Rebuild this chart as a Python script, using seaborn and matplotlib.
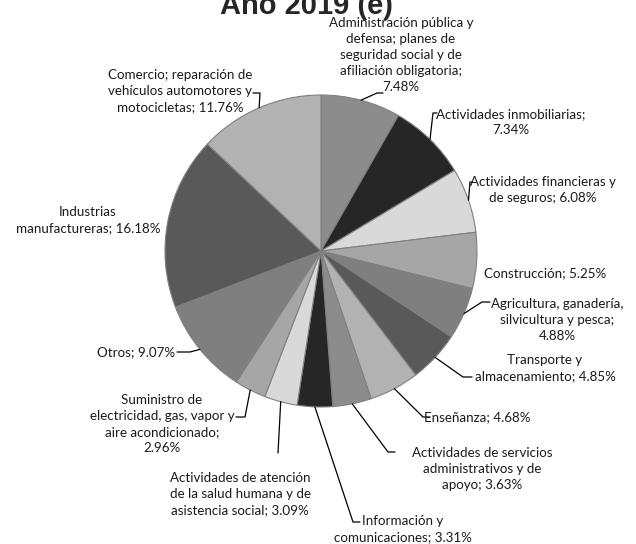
import numpy as np
import seaborn as sns
import matplotlib.pyplot as plt

sns.set_style('white')

# sectors, clockwise from 12 o'clock
sectores = ['Administración pública y defensa; planes de seguridad social y de afiliación obligatoria',
            'Actividades inmobiliarias',
            'Actividades financieras y de seguros',
            'Construcción',
            'Agricultura, ganadería, silvicultura y pesca',
            'Transporte y almacenamiento',
            'Enseñanza',
            'Actividades de servicios administrativos y de apoyo',
            'Información y comunicaciones',
            'Actividades de atención de la salud humana y de asistencia social',
            'Suministro de electricidad, gas, vapor y aire acondicionado',
            'Otros',
            'Industrias manufactureras',
            'Comercio; reparación de vehículos automotores y motocicletas']
porcentaje = [7.48, 7.34, 6.08, 5.25, 4.88, 4.85, 4.68, 3.63, 3.31, 3.09, 2.96, 9.07, 16.18, 11.76]

# label text as wrapped in the chart (value is appended)
etiquetas = ['Administración pública y\ndefensa; planes de\nseguridad social y de\nafiliación obligatoria;\n',
             'Actividades inmobiliarias;\n',
             'Actividades financieras y\nde seguros; ',
             'Construcción; ',
             'Agricultura, ganadería,\nsilvicultura y pesca;\n',
             'Transporte y\nalmacenamiento; ',
             'Enseñanza; ',
             'Actividades de servicios\nadministrativos y de\napoyo; ',
             'Información y\ncomunicaciones; ',
             'Actividades de atención\nde la salud humana y de\nasistencia social; ',
             'Suministro de\nelectricidad, gas, vapor y\naire acondicionado;\n',
             'Otros; ',
             'Industrias\nmanufactureras; ',
             'Comercio; reparación de\nvehículos automotores y\nmotocicletas; ']

colores = ['#8c8c8c', '#262626', '#d9d9d9', '#a6a6a6', '#7f7f7f', '#595959', '#b2b2b2',
           '#8c8c8c', '#262626', '#d9d9d9', '#a6a6a6', '#7f7f7f', '#595959', '#b2b2b2']

# layout in pixels: label centre and leader-line bend points
CX, CY, R = 321, 251, 156
pos_px = [(401, 55), (511, 122), (543, 190), (545, 273), (557, 320), (545, 368),
          (477, 417), (482, 469), (403, 529), (240, 494), (162, 424), (136, 352),
          (88, 220), (180, 91)]
guias_px = [[(377, 93), (383, 93)], [(433, 113), (437, 113)], [(470, 182), (472, 182)], None,
            [(482, 302), (490, 302)], [(463, 377), (472, 377)], [(423, 417), (430, 417)],
            [(388, 452), (395, 452)], [(353, 522), (360, 522)], [(278, 453)],
            [(245, 417), (236, 417)], [(190, 352), (177, 352)], None, [(260, 93), (253, 93)]]


def px2d(p):
    return ((p[0] - CX) / R, (CY - p[1]) / R)


fig = plt.figure(figsize=(6.36, 5.44), dpi=100)
ax = fig.add_axes([0, 0, 1, 1])
wedges, _ = ax.pie(porcentaje, colors=colores, startangle=90, counterclock=False,
                   radius=1, wedgeprops={'edgecolor': '#808080', 'linewidth': 0.8})
ax.set_xlim(-CX / R, (636 - CX) / R)
ax.set_ylim(-(544 - CY) / R, CY / R)
ax.set_aspect('equal')
ax.axis('off')

for w, lab, val, p, g in zip(wedges, etiquetas, porcentaje, pos_px, guias_px):
    x, y = px2d(p)
    ax.text(x, y, lab + '{:.2f}%'.format(val), ha='center', va='center', multialignment='center',
            fontsize=9.6, family='Lato', color='#1a1a1a', linespacing=1.42)
    if g is not None:
        ang = np.deg2rad((w.theta1 + w.theta2) / 2)
        pts = [(np.cos(ang), np.sin(ang))] + [px2d(q) for q in g]
        xs, ys = zip(*pts)
        ax.plot(xs, ys, color='black', lw=0.9)

ax.text(px2d((306, 14))[0], px2d((306, 14))[1], 'Año 2019 (e)', ha='center', va='baseline',
        fontsize=21, fontweight='bold', family='Liberation Sans')

fig.savefig('out.png', dpi=100)
